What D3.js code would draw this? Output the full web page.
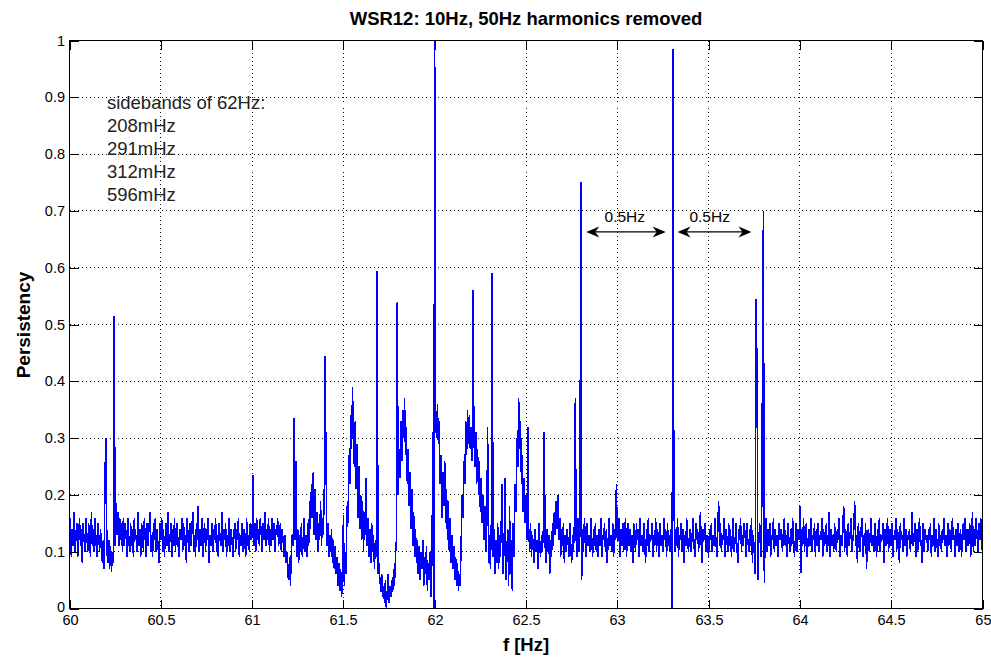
<!DOCTYPE html>
<html><head><meta charset="utf-8">
<script src="https://cdn.jsdelivr.net/npm/d3@7"></script>
<style>body{margin:0;background:#fff}svg{display:block}</style>
</head><body><svg id="c" width="991" height="657"></svg>
<script>
// Persistency values, one array per Hz, step 0.005 Hz (rows = 0.1 Hz)
const p60 = [
.12,.16,.09,.14,.11,.17,.10,.13,.15,.09,.12,.16,.11,.14,.08,.15,.12,.10,.16,.13,
.10,.15,.12,.09,.17,.11,.14,.10,.16,.12,.09,.15,.13,.10,.14,.11,.08,.12,.07,.25,
.30,.10,.08,.12,.07,.11,.065,.10,.08,.515,.11,.185,.13,.17,.11,.16,.12,.15,.10,.16,
.11,.15,.13,.09,.16,.12,.10,.15,.11,.14,.09,.16,.12,.13,.10,.17,.11,.14,.09,.15,
.13,.10,.16,.12,.09,.15,.11,.14,.17,.10,.13,.09,.15,.12,.16,.10,.14,.11,.08,.15,
.12,.16,.10,.14,.09,.13,.15,.11,.17,.10,.12,.15,.09,.14,.11,.16,.10,.13,.15,.11,
.09,.14,.12,.16,.10,.15,.11,.13,.08,.16,.12,.10,.15,.11,.14,.17,.10,.13,.09,.15,
.12,.18,.10,.14,.11,.16,.09,.13,.15,.10,.14,.12,.16,.08,.13,.11,.15,.10,.14,.12,
.16,.10,.13,.09,.15,.12,.11,.17,.10,.14,.12,.15,.09,.13,.11,.16,.10,.14,.12,.09,
.13,.15,.10,.14,.12,.16,.09,.13,.11,.15,.10,.14,.12,.09,.16,.11,.13,.10,.15,.12];
const p61 = [
.13,.235,.11,.15,.10,.16,.12,.14,.11,.16,.13,.10,.15,.12,.17,.11,.14,.12,.16,.10,
.14,.11,.16,.12,.15,.10,.14,.13,.16,.11,.13,.15,.10,.14,.12,.09,.13,.08,.10,.06,
.05,.09,.04,.10,.13,.11,.335,.12,.26,.09,.14,.08,.13,.10,.15,.09,.12,.16,.10,.13,
.09,.15,.11,.19,.14,.22,.16,.24,.13,.21,.12,.17,.10,.15,.12,.19,.11,.16,.13,.20,
.445,.25,.11,.15,.09,.13,.10,.14,.08,.12,.07,.11,.06,.09,.04,.08,.03,.07,.02,.05,
.165,.04,.10,.06,.18,.15,.27,.22,.34,.28,.39,.30,.25,.33,.21,.29,.16,.25,.14,.20,
.12,.19,.10,.17,.13,.23,.11,.16,.09,.14,.08,.15,.10,.13,.07,.12,.09,.595,.06,.08,
.05,.03,.06,.02,.04,.01,.05,.00,.03,.06,.01,.04,.02,.05,.03,.07,.04,.09,.12,.54,
.20,.28,.23,.33,.26,.35,.30,.37,.27,.32,.22,.28,.18,.24,.14,.21,.11,.17,.09,.14,
.08,.12,.06,.11,.05,.10,.07,.12,.04,.09,.06,.11,.03,.08,.05,.10,.02,.09,.31,.00];
const p62 = [
1.0,.33,.30,.36,.29,.33,.22,.27,.16,.24,.18,.26,.15,.21,.12,.19,.10,.16,.08,.13,
.07,.11,.05,.09,.04,.08,.03,.06,.04,.12,.20,.16,.26,.22,.33,.27,.35,.29,.34,.28,
.32,.26,.56,.30,.25,.31,.22,.28,.20,.26,.17,.23,.15,.20,.12,.18,.10,.14,.32,.08,
.13,.07,.15,.59,.09,.14,.06,.12,.08,.15,.07,.13,.09,.16,.22,.06,.11,.23,.05,.10,
.14,.04,.18,.06,.12,.03,.15,.09,.22,.17,.30,.25,.37,.28,.33,.22,.27,.17,.23,.15,
.20,.12,.32,.14,.10,.15,.09,.13,.11,.08,.14,.10,.12,.07,.15,.11,.09,.13,.10,.14,
.31,.11,.08,.14,.10,.13,.06,.12,.09,.15,.11,.17,.13,.19,.14,.20,.12,.16,.09,.14,
.11,.15,.08,.13,.10,.14,.12,.09,.15,.11,.08,.13,.10,.15,.37,.12,.09,.16,.10,.13,
.75,.05,.14,.10,.16,.12,.09,.15,.11,.13,.10,.16,.12,.09,.14,.11,.15,.10,.13,.09,
.14,.11,.16,.09,.13,.12,.15,.10,.14,.08,.12,.16,.11,.13,.10,.15,.09,.14,.12,.22];
const p63 = [
.12,.12,.16,.09,.14,.11,.15,.10,.13,.16,.09,.12,.15,.11,.14,.10,.13,.08,.15,.12,
.10,.15,.12,.14,.09,.16,.11,.13,.10,.15,.12,.08,.14,.11,.16,.10,.13,.12,.15,.09,
.13,.11,.16,.10,.14,.12,.09,.15,.11,.13,.10,.16,.12,.14,.09,.15,.11,.13,.10,.14,
.00,.985,.19,.10,.14,.11,.16,.09,.13,.12,.15,.10,.14,.08,.13,.11,.16,.12,.10,.13,
.14,.10,.13,.16,.11,.09,.15,.12,.14,.10,.13,.17,.11,.08,.14,.12,.15,.10,.13,.11,
.09,.14,.12,.15,.10,.13,.11,.16,.12,.09,.14,.19,.11,.15,.10,.13,.12,.16,.09,.14,
.12,.10,.15,.11,.14,.09,.13,.16,.10,.12,.15,.11,.08,.14,.12,.16,.10,.13,.11,.15,
.13,.09,.15,.12,.10,.14,.11,.16,.08,.13,.10,.06,.545,.43,.05,.12,.15,.09,.10,.43,
.70,.045,.13,.16,.10,.14,.11,.15,.09,.13,.12,.16,.10,.14,.11,.13,.09,.15,.12,.14,
.12,.10,.14,.16,.11,.13,.09,.15,.12,.10,.14,.11,.16,.13,.09,.12,.15,.10,.14,.12];
const p64 = [
.18,.063,.14,.11,.16,.10,.13,.15,.09,.12,.14,.11,.16,.10,.13,.12,.15,.09,.14,.11,
.15,.10,.13,.12,.16,.09,.14,.11,.13,.15,.10,.12,.17,.09,.14,.11,.13,.10,.15,.12,
.10,.14,.12,.16,.09,.13,.11,.15,.18,.10,.14,.12,.09,.15,.11,.13,.16,.10,.12,.14,
.19,.11,.13,.08,.15,.12,.10,.14,.16,.09,.13,.11,.15,.07,.12,.14,.10,.13,.16,.11,
.13,.10,.15,.12,.09,.14,.11,.16,.10,.13,.12,.15,.08,.14,.11,.13,.16,.10,.12,.14,
.11,.15,.09,.13,.12,.16,.10,.14,.11,.08,.15,.12,.13,.10,.16,.11,.14,.09,.13,.12,
.14,.10,.13,.17,.11,.12,.15,.09,.14,.10,.13,.16,.11,.12,.08,.15,.10,.14,.12,.13,
.10,.14,.12,.15,.09,.13,.11,.16,.10,.14,.12,.09,.15,.11,.13,.10,.14,.12,.16,.11,
.13,.09,.15,.11,.14,.12,.10,.16,.12,.13,.09,.14,.11,.15,.10,.12,.14,.09,.13,.15,
.12,.16,.10,.14,.11,.13,.15,.09,.12,.17,.10,.14,.11,.16,.13,.10,.15,.12,.16,.14];
const p65 = [.09];

const fStart = 60, fStep = 0.005;
const xTicks = [60,60.5,61,61.5,62,62.5,63,63.5,64,64.5,65];
const xTickLabels = ["60","60.5","61","61.5","62","62.5","63","63.5","64","64.5","65"];
const yTicks = [0,0.1,0.2,0.3,0.4,0.5,0.6,0.7,0.8,0.9,1];
const yTickLabels = ["0","0.1","0.2","0.3","0.4","0.5","0.6","0.7","0.8","0.9","1"];
const titleText = "WSR12: 10Hz, 50Hz harmonics removed";
const xLabel = "f [Hz]";
const yLabel = "Persistency";
const noteLines = ["sidebands of 62Hz:","208mHz","291mHz","312mHz","596mHz"];
// arrows: [from f, to f] at persistency level, label at f
const arrowSpans = [[62.83, 63.265], [63.33, 63.735]];
const arrowLevel = 0.663;
const arrowLabelF = [62.93, 63.395];
const arrowLabel = "0.5Hz";

const persistency = [].concat(p60, p61, p62, p63, p64, p65);
const data = persistency.map((v, i) => ({f: fStart + i * fStep, v}));

const FONT = "'Liberation Sans', Arial, Helvetica, sans-serif";
const svg = d3.select("#c");
const L = 69.5, R = 982.5, T = 40.5, B = 608.5;
const x = d3.scaleLinear().domain([60, 65]).range([L, R]);
const y = d3.scaleLinear().domain([0, 1]).range([B, T]);
const snap = v => Math.round(v - 0.5) + 0.5;

svg.append("rect").attr("width", 991).attr("height", 657).attr("fill", "#fff");

// grid
const grid = svg.append("g").attr("stroke", "#111").attr("stroke-width", 1)
  .attr("stroke-dasharray", "1,3").attr("shape-rendering", "crispEdges");
grid.selectAll(".gx").data(xTicks.slice(1, -1)).join("line")
  .attr("x1", d => snap(x(d))).attr("x2", d => snap(x(d))).attr("y1", T).attr("y2", B);
grid.selectAll(".gy").data(yTicks.slice(1, -1)).join("line")
  .attr("y1", d => snap(y(d))).attr("y2", d => snap(y(d))).attr("x1", L).attr("x2", R);

// series
const line = d3.line().x(d => x(d.f)).y(d => y(d.v));
svg.append("path").datum(data).attr("d", line)
  .attr("fill", "none").attr("stroke", "#0000ff").attr("stroke-width", 1.5)
  .attr("stroke-linejoin", "bevel").attr("shape-rendering", "crispEdges");

// axes
const fmtX = d => xTickLabels[xTicks.indexOf(d)];
const fmtY = d => yTickLabels[yTicks.indexOf(d)];
const TK = 9;
const ax = svg.append("g").attr("transform", `translate(0,${B})`)
  .call(d3.axisBottom(x).tickValues(xTicks).tickFormat(fmtX).tickSizeInner(-TK).tickSizeOuter(0).tickPadding(6));
const ay = svg.append("g").attr("transform", `translate(${L},0)`)
  .call(d3.axisLeft(y).tickValues(yTicks).tickFormat(fmtY).tickSizeInner(-TK).tickSizeOuter(0).tickPadding(5));
const at = svg.append("g").attr("transform", `translate(0,${T})`)
  .call(d3.axisTop(x).tickValues(xTicks).tickFormat("").tickSizeInner(-TK).tickSizeOuter(0));
const ar = svg.append("g").attr("transform", `translate(${R},0)`)
  .call(d3.axisRight(y).tickValues(yTicks).tickFormat("").tickSizeInner(-TK).tickSizeOuter(0));
[ax, ay, at, ar].forEach(g => {
  g.select(".domain").remove();
  g.selectAll(".tick line").attr("stroke", "#000").attr("shape-rendering", "crispEdges");
  g.selectAll(".tick").attr("transform", function() {
    const t = d3.select(this).attr("transform");
    const m = /translate\(([-\d.]+),([-\d.]+)\)/.exec(t);
    return `translate(${snap(+m[1])},${snap(+m[2])})`;
  });
  g.selectAll("text").attr("font-family", FONT).attr("font-size", 14.5).attr("fill", "#000");
});
// keep first/last labels clear of the corner and the picture edge
ax.selectAll(".tick text").filter(d => d === 65).attr("text-anchor", "end").attr("x", 8);
ay.selectAll(".tick text").filter(d => d === 0).attr("y", -2);
// box
svg.append("rect").attr("x", L).attr("y", T).attr("width", R - L).attr("height", B - T)
  .attr("fill", "none").attr("stroke", "#000").attr("stroke-width", 1).attr("shape-rendering", "crispEdges");

// title and labels
svg.append("text").attr("x", (L + R) / 2).attr("y", 25).attr("text-anchor", "middle")
  .attr("font-family", FONT).attr("font-size", 18.5).attr("font-weight", "bold").text(titleText);
svg.append("text").attr("x", (L + R) / 2).attr("y", 651).attr("text-anchor", "middle")
  .attr("font-family", FONT).attr("font-size", 18.5).attr("font-weight", "bold").text(xLabel);
svg.append("text").attr("transform", "translate(30,325) rotate(-90)").attr("text-anchor", "middle")
  .attr("font-family", FONT).attr("font-size", 19).attr("font-weight", "bold").text(yLabel);

// notes
const noteY0 = 0.879, noteStep = 23 / (B - T);
svg.append("g").selectAll("text").data(noteLines).join("text")
  .attr("x", x(60.205)).attr("y", (d, i) => y(noteY0 - i * noteStep))
  .attr("font-family", FONT).attr("font-size", 18.5).attr("fill", "#222").text(d => d);

// arrows
const ag = svg.append("g");
arrowSpans.forEach(([a, b]) => {
  const x1 = x(a), x2 = x(b), yy = y(arrowLevel);
  ag.append("line").attr("x1", x1 + 6).attr("x2", x2 - 6).attr("y1", yy).attr("y2", yy)
    .attr("stroke", "#000").attr("stroke-width", 1.2);
  const head = (tip, dir) => `M${tip},${yy} L${tip + dir * 13},${yy - 5.5} L${tip + dir * 9},${yy} L${tip + dir * 13},${yy + 5.5} Z`;
  ag.append("path").attr("d", head(x1, 1)).attr("fill", "#000");
  ag.append("path").attr("d", head(x2, -1)).attr("fill", "#000");
});
ag.selectAll("text").data(arrowLabelF).join("text")
  .attr("x", d => x(d)).attr("y", y(0.68))
  .attr("font-family", FONT).attr("font-size", 15.5).attr("fill", "#000").text(arrowLabel);
</script></body></html>
